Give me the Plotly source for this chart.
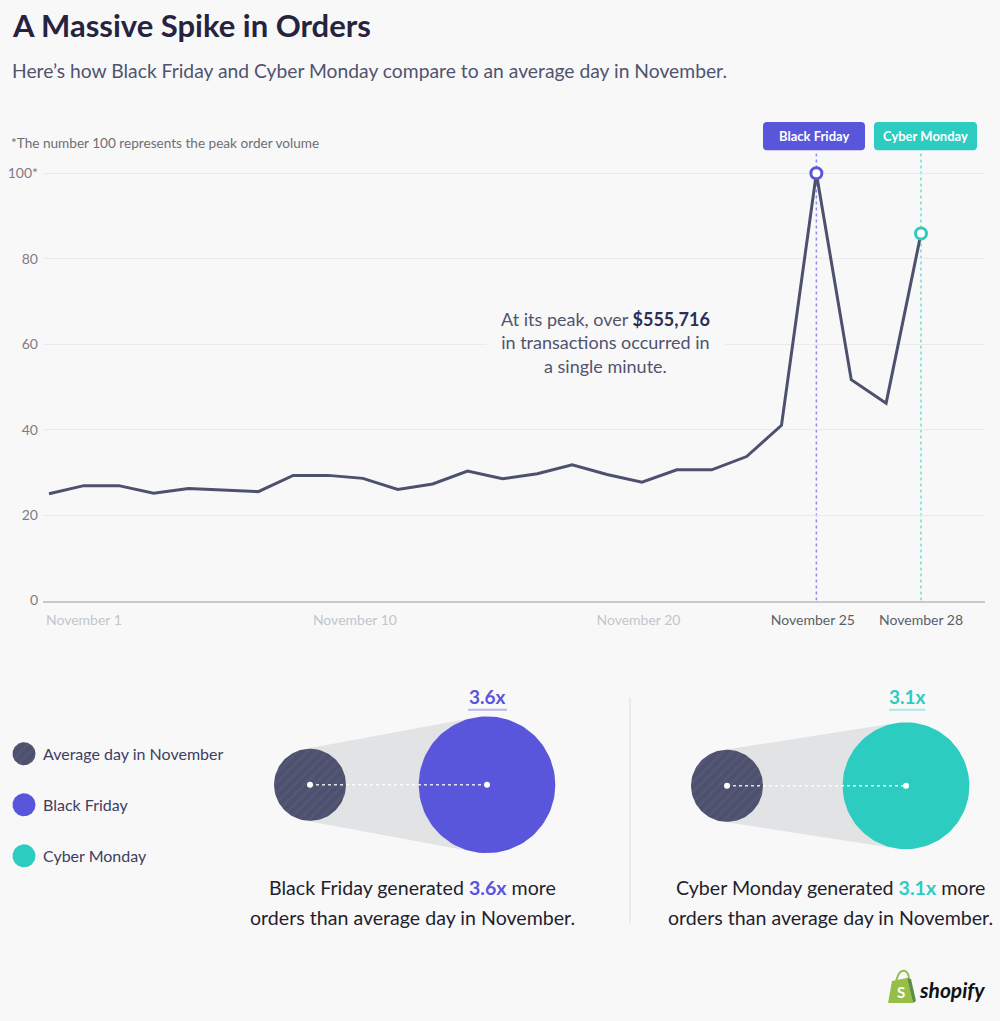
import numpy as np
import plotly.graph_objects as go

# ---------------- data ----------------
order_volume = [25.0, 26.9, 26.9, 25.1, 26.2, 25.8, 25.5, 29.3, 29.3, 28.6,
                26.0, 27.3, 30.3, 28.5, 29.7, 31.8, 29.5, 27.7, 30.6, 30.6,
                33.7, 41.0, 100.0, 51.7, 46.2, 85.9]
day_position = list(range(len(order_volume)))
black_friday_idx = 22
cyber_monday_idx = 25

x_tick_pos = [1.0, 8.77, 16.9, 21.9, 25.0]
x_tick_text = ["November 1", "November 10", "November 20", "November 25", "November 28"]
x_tick_dark = [False, False, False, True, True]
y_tick_vals = [0, 20, 40, 60, 80, 100]
y_tick_text = ["0", "20", "40", "60", "80", "100*"]

bf_multiplier = 3.6
cm_multiplier = 3.1
legend_labels = ["Average day in November", "Black Friday", "Cyber Monday"]

# ---------------- styles ----------------
BG = "#f8f8f9"
DARK = "#4d516e"
PURPLE = "#5a56dc"
TEAL = "#2dccc0"
CONE = "#e2e3e5"
FONT = "Lato"
W, H = 1000, 1021
HE = 1012  # effective vertical extent of the layout grid

fig = go.Figure()

fig.add_trace(go.Scatter(x=day_position, y=order_volume, mode="lines",
                         line=dict(color=DARK, width=3), hoverinfo="skip"))
fig.add_trace(go.Scatter(x=[day_position[black_friday_idx]], y=[order_volume[black_friday_idx]],
                         mode="markers", marker=dict(size=11, color="white",
                                                     line=dict(color=PURPLE, width=3))))
fig.add_trace(go.Scatter(x=[day_position[cyber_monday_idx]], y=[order_volume[cyber_monday_idx]],
                         mode="markers", marker=dict(size=11, color="white",
                                                     line=dict(color=TEAL, width=3))))


def circle_xy(cx, cy, r, n=120):
    t = np.linspace(0, 2 * np.pi, n)
    return cx + r * np.cos(t), cy + r * np.sin(t)


def add_circle(cx, cy, r, color, hatch=False):
    xs, ys = circle_xy(cx, cy, r)
    kw = {}
    if hatch:
        kw["fillpattern"] = dict(shape="/", bgcolor=color, fgcolor="#5d6282",
                                 size=7, solidity=0.25)
    fig.add_trace(go.Scatter(x=xs, y=ys, mode="lines", fill="toself",
                             fillcolor=color, line=dict(width=0, color=color),
                             xaxis="x2", yaxis="y2", hoverinfo="skip", **kw))


def add_comparison(cx1, cx2, cy, r1, mult, color):
    r2 = r1 * np.sqrt(mult)
    d = cx2 - cx1
    s = (r2 - r1) / d
    c = np.sqrt(1 - s * s)
    p1t = (cx1 - r1 * s, cy - r1 * c)
    p2t = (cx2 - r2 * s, cy - r2 * c)
    p2b = (cx2 - r2 * s, cy + r2 * c)
    p1b = (cx1 - r1 * s, cy + r1 * c)
    fig.add_trace(go.Scatter(x=[p1t[0], p2t[0], p2b[0], p1b[0], p1t[0]],
                             y=[p1t[1], p2t[1], p2b[1], p1b[1], p1t[1]],
                             mode="lines", fill="toself", fillcolor=CONE,
                             line=dict(width=0, color=CONE), xaxis="x2", yaxis="y2",
                             hoverinfo="skip"))
    add_circle(cx1, cy, r1, DARK, hatch=True)
    add_circle(cx2, cy, r2, color)
    fig.add_trace(go.Scatter(x=[cx1, cx2], y=[cy, cy], mode="lines",
                             line=dict(color="rgba(255,255,255,0.85)", width=1.5, dash="dot"),
                             xaxis="x2", yaxis="y2", hoverinfo="skip"))
    fig.add_trace(go.Scatter(x=[cx1, cx2], y=[cy, cy], mode="markers",
                             marker=dict(color="white", size=6),
                             xaxis="x2", yaxis="y2", hoverinfo="skip"))
    return r2


add_comparison(310, 487, 784, 36, bf_multiplier, PURPLE)
add_comparison(727, 906, 785, 36, cm_multiplier, TEAL)

legend_colors = [DARK, PURPLE, TEAL]
legend_y = [753, 804, 855]
for lab, col, ly in zip(legend_labels, legend_colors, legend_y):
    add_circle(24, ly, 11.5, col, hatch=(col == DARK))

annotations = []
shapes = []


def txt(x, y, text, size, color, xanchor="left", **kw):
    annotations.append(dict(x=x, y=y, xref="x2", yref="y2", text=text, showarrow=False,
                            xanchor=xanchor, yanchor="middle",
                            font=dict(family=FONT, size=size, color=color), **kw))


for lab, ly in zip(legend_labels, legend_y):
    txt(41, ly, lab, 16, "#3c4060")

txt(10, 25, "<b>A Massive Spike in Orders</b>", 31, "#26233f")
txt(10, 70, "Here’s how Black Friday and Cyber Monday compare to an average day in November.",
    19.3, "#50546e")
txt(9, 143, "*The number 100 represents the peak order volume", 13.6, "#6e6e72")

annotations.append(dict(x=605, y=342, xref="x2", yref="y2", showarrow=False,
                        text=("At its peak, over <b><span style='color:#2b2f55'>$555,716</span></b>"
                              "<br>in transactions occurred in<br>a single minute."),
                        align="center", xanchor="center", yanchor="middle",
                        bgcolor=BG, borderpad=14,
                        font=dict(family=FONT, size=18, color="#50546e")))


def rrect(x0, y0, x1, y1, r):
    return (f"M{x0+r},{y0} L{x1-r},{y0} Q{x1},{y0} {x1},{y0+r} L{x1},{y1-r} "
            f"Q{x1},{y1} {x1-r},{y1} L{x0+r},{y1} Q{x0},{y1} {x0},{y1-r} "
            f"L{x0},{y0+r} Q{x0},{y0} {x0+r},{y0} Z")


shapes.append(dict(type="path", path=rrect(763, 122, 865, 150, 4), xref="x2", yref="y2",
                   fillcolor=PURPLE, line=dict(width=0)))
shapes.append(dict(type="path", path=rrect(874, 122, 977, 150, 4), xref="x2", yref="y2",
                   fillcolor=TEAL, line=dict(width=0)))
txt(814, 136, "<b>Black Friday</b>", 13, "white", xanchor="center")
txt(925.5, 136, "<b>Cyber Monday</b>", 13, "white", xanchor="center")

Y_TOP = 105.4
shapes.append(dict(type="line", xref="x", yref="y", x0=black_friday_idx, x1=black_friday_idx,
                   y0=0, y1=Y_TOP, line=dict(color="#8d89ee", width=1.5, dash="dot"),
                   layer="below"))
shapes.append(dict(type="line", xref="x", yref="y", x0=cyber_monday_idx, x1=cyber_monday_idx,
                   y0=0, y1=Y_TOP, line=dict(color="#6fded5", width=1.5, dash="dot"),
                   layer="below"))

txt(487, 696, f"<b>{bf_multiplier}x</b>", 19, PURPLE, xanchor="center")
shapes.append(dict(type="line", xref="x2", yref="y2", x0=468, x1=507, y0=709, y1=709,
                   line=dict(color="#b8b6f0", width=2)))
txt(907, 696, f"<b>{cm_multiplier}x</b>", 19, TEAL, xanchor="center")
shapes.append(dict(type="line", xref="x2", yref="y2", x0=889, x1=925, y0=709, y1=709,
                   line=dict(color="#a6ebe5", width=2)))

CAP = 19.6
txt(412, 887, f"Black Friday generated <b><span style='color:{PURPLE}'>{bf_multiplier}x</span></b> more",
    CAP, "#1f1f2e", xanchor="center")
txt(412, 917, "orders than average day in November.", CAP, "#1f1f2e", xanchor="center")
txt(830, 887, f"Cyber Monday generated <b><span style='color:{TEAL}'>{cm_multiplier}x</span></b> more",
    CAP, "#1f1f2e", xanchor="center")
txt(830, 917, "orders than average day in November.", CAP, "#1f1f2e", xanchor="center")

shapes.append(dict(type="line", xref="x2", yref="y2", x0=630, x1=630, y0=697, y1=922,
                   line=dict(color="#dedee2", width=1)))

shapes.append(dict(type="path", xref="x2", yref="y2",
                   path="M896,981 Q899,968 905,970 Q909,972 909,979",
                   line=dict(color="#95bf47", width=2), fillcolor="rgba(0,0,0,0)"))
shapes.append(dict(type="path", xref="x2", yref="y2",
                   path="M892,980 L907,977 L913,1002 L888,1002 Z",
                   fillcolor="#95bf47", line=dict(width=0)))
shapes.append(dict(type="path", xref="x2", yref="y2",
                   path="M907,977 L911,978 L916,1000 L913,1002 Z",
                   fillcolor="#5e8e3e", line=dict(width=0)))
txt(900.5, 991, "<b>S</b>", 15, "white", xanchor="center")
txt(917, 989, "<b><i>shopify</i></b>", 21, "#111111")

ticktext = [f"<span style='color:{'#5a5e6a' if dk else '#c3c5cc'}'>{t}</span>"
            for t, dk in zip(x_tick_text, x_tick_dark)]

fig.update_layout(
    width=W, height=H,
    margin=dict(l=0, r=0, t=0, b=0),
    paper_bgcolor=BG, plot_bgcolor="rgba(0,0,0,0)",
    showlegend=False,
    font=dict(family=FONT),
    xaxis=dict(domain=[0.043, 0.985], range=[-0.172, 26.835], tickvals=x_tick_pos,
               ticktext=ticktext, showgrid=False, zeroline=False, showline=True,
               linecolor="#c9c9cd", linewidth=2, ticks="", ticklabelstandoff=6,
               tickfont=dict(family=FONT, size=14), fixedrange=True),
    yaxis=dict(domain=[1 - 600 / HE, 1 - 150 / HE], range=[0, Y_TOP], tickvals=y_tick_vals,
               ticktext=y_tick_text, showgrid=True, gridcolor="#ebebee", gridwidth=1,
               zeroline=False, showline=False, ticks="", ticklabelstandoff=4,
               tickfont=dict(family=FONT, size=14, color="#7d7d82"), fixedrange=True),
    xaxis2=dict(domain=[0, 1], range=[0, W], visible=False, anchor="y2", fixedrange=True),
    yaxis2=dict(domain=[0, 1], range=[HE, 0], visible=False, anchor="x2", fixedrange=True),
    annotations=annotations,
    shapes=shapes,
)

fig.write_html("out.html", config={"displayModeBar": False},
               post_script=("document.body.style.margin='0';"
                            "document.documentElement.style.overflow='hidden';"
                            "document.body.style.background='%s';" % BG))
